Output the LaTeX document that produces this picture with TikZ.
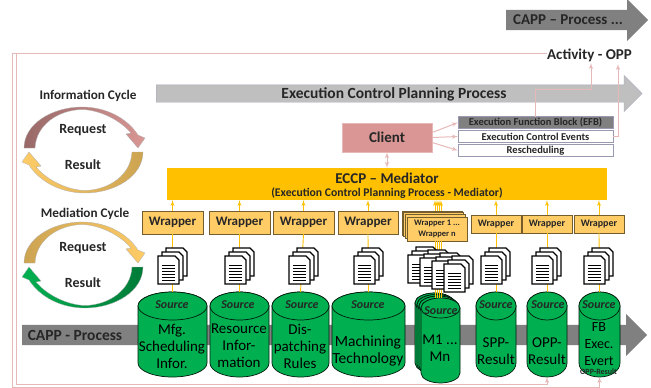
\documentclass[tikz,border=0pt]{standalone}
\usepackage{fontspec}
\setmainfont{Carlito}
\usetikzlibrary{arrows,shapes.arrows,positioning}
\definecolor{framepink}{HTML}{E6B9B8}
\definecolor{clientpink}{HTML}{D99694}
\definecolor{medorange}{HTML}{FFC000}
\definecolor{wraporange}{HTML}{FFCC66}
\definecolor{srcgreen}{HTML}{00B050}
\tikzset{txt/.style={font=\bfseries\fontsize{#1}{#1}\selectfont, text=black!85, inner sep=0pt}}
\tikzset{procarrow/.style={single arrow, anchor=tail, inner sep=0pt, text width=0pt, text height=#1, text depth=0pt, single arrow head extend=0.5*#1+1pt}}
\tikzset{pinkline/.style={draw=framepink, line width=1pt, -latex'}}
\tikzset{orangeline/.style={draw=medorange, line width=0.9pt, -latex'}}
\tikzset{wrapbox/.style={draw=black!55!wraporange, fill=wraporange, line width=0.8pt, inner sep=0pt, outer sep=0pt, minimum width=#1}}
\tikzset{infobox/.style={draw=blue!25!black!40, fill=white, line width=0.7pt, inner sep=0pt, outer sep=0pt, minimum width=155pt, minimum height=11.5pt, txt=10.5}}
\tikzset{srcbody/.style={draw=black!85!srcgreen, fill=srcgreen, line width=0.7pt}}
\tikzset{srcname/.style={font=\bfseries\itshape\fontsize{12}{12}\selectfont, text=black!85, inner sep=0pt}}
\tikzset{srctext/.style={font=\fontsize{#1}{17}\selectfont, text=black, align=center, inner sep=0pt}}
\tikzset{docs/.pic={
	\foreach \dx/\dy in {8/-8,4/-4,0/0}
		\draw [draw=black, fill=white, line width=1.2pt, shift={(\dx,\dy)}] (0,0) -- (17,0) -- (21,4) -- (21,28) -- (0,28) -- cycle;
	\foreach \ly in {9,12,15,18,21,24}
		\draw [black, line width=0.9pt] (4,\ly) -- (17,\ly);
}}
\newcommand{\cyclearc}{(24,148) .. controls (24,124) and (52,107) .. (82,107) .. controls (106,107) and (127,118) .. (138,135) -- (145,138) -- (138,148) -- (126,134) -- (131,133) .. controls (120,120) and (100,110) .. (82,109.5) .. controls (58,110) and (36,125) .. (35,148) -- cycle}
% name, centre x, centre y, width, height, end radius
\newcommand{\srcdb}[6]{
	\node [minimum width=#4pt, minimum height=#5pt, inner sep=0pt, outer sep=0pt] (#1) at (#2,#3) {};
	\path [srcbody] ([yshift=-#6pt]#1.north west) arc [start angle=180, end angle=0, x radius=0.5*#4pt, y radius=#6pt]
		-- ([yshift=#6pt]#1.south east) arc [start angle=0, end angle=-180, x radius=0.5*#4pt, y radius=#6pt] -- cycle;
	\path [srcbody] ([yshift=-#6pt]#1.north) ellipse [x radius=0.5*#4pt, y radius=#6pt];
}
\begin{document}
\begin{tikzpicture}[x=1pt,y=-1pt]
	\useasboundingbox (0,0) rectangle (651,388);

	% process arrows
	\node [procarrow=20pt, fill=black!50, minimum height=142pt]					(capptop) at (506,20) {};
	\node [txt=15]																(capptoptxt) at (568,20) {CAPP -- Process ...};
	\node [procarrow=17pt, fill=black!25, draw=blue!25!black!35, minimum height=486pt]	(ecpp) at (156,93.5) {};
	\node [txt=15.5]															(ecpptxt) at (394,94) {Execution Control Planning Process};
	\node [procarrow=20pt, fill=black!50, minimum height=625pt]					(capp) at (22,335) {};
	\node [txt=15.5]															(capptxt) at (75,335) {CAPP - Process};

	% cycles
	\node [txt=13.2]	(infocycle) at (88,96) {Information Cycle};
	\path [left color=black!30!clientpink, right color=clientpink, draw=black!30, line width=0.3pt] \cyclearc;
	\path [left color=wraporange, right color=black!20!wraporange, draw=black!30, line width=0.3pt, rotate around={180:(83.5,150)}] \cyclearc;
	\node [txt=14]		(req1) at (83,130) {Request};
	\node [txt=14]		(res1) at (83,165) {Result};
	\node [txt=13.2]	(medcycle) at (85,214) {Mediation Cycle};
	\begin{scope}[shift={(0,115)}]
		\path [left color=black!20!wraporange, right color=wraporange, draw=black!30, line width=0.3pt] \cyclearc;
		\path [left color=srcgreen, right color=black!30!srcgreen, draw=black!30, line width=0.3pt, rotate around={180:(83.5,150)}] \cyclearc;
	\end{scope}
	\node [txt=14]		(req2) at (83,248) {Request};
	\node [txt=14]		(res2) at (83,283) {Result};

	% mediator and client
	\node [fill=medorange, minimum width=440pt, minimum height=32pt, inner sep=0pt]	(med) at (387,184) {};
	\node [txt=15]		(medtxt) at (387,178) {ECCP -- Mediator};
	\node [txt=11.7]	(medsub) at (387,193) {(Execution Control Planning Process - Mediator)};
	\node [fill=clientpink, draw=framepink, minimum width=90pt, minimum height=29pt, inner sep=0pt, txt=15]	(client) at (387,137.5) {Client};
	\node [infobox, fill=black!50]			(efb) at (535.5,122.5) {Execution Function Block (EFB)};
	\node [infobox, below=2.5pt of efb]		(events) {Execution Control Events};
	\node [infobox, below=2.5pt of events]	(resched) {Rescheduling};
	\node [txt=15]							(activity) at (589.5,55) {Activity - OPP};
	\coordinate (actA) at (591,63);
	\coordinate (actB) at (618,64);

	\path [pinkline] ([yshift=5pt]client.east) -- (efb.west);
	\path [pinkline] (client.east) -- (events.west);
	\path [pinkline] ([yshift=-5pt]client.east) -- (resched.west);
	\path [pinkline, latex'-latex'] (client.south) -- (client.south |- med.north);
	\path [pinkline] (efb.north) |- (actA |- 0,89) -- (actA);
	\path [pinkline] (events.east) -| (actB);

	% cylinders
	\srcdb{c1}{172.5}{334.5}{69}{85}{14}
	\srcdb{c2}{239.5}{334.5}{59}{85}{14}
	\srcdb{c3}{300.5}{334.5}{57}{85}{14}
	\srcdb{c4}{368.5}{334.5}{73}{85}{14}
	\srcdb{c5a}{434.5}{333}{39}{80}{10}
	\srcdb{c5b}{436.5}{334.5}{39}{80}{10}
	\srcdb{c5c}{438.5}{336}{39}{80}{10}
	\srcdb{c5}{440.5}{340.5}{39}{85}{10}
	\srcdb{c6}{496}{334.5}{40}{85}{14}
	\srcdb{c7}{547}{334.5}{40}{85}{14}
	\srcdb{c8}{599.5}{334.5}{41}{85}{14}

	\node [srcname]	(s1) at (172,305) {Source};
	\node [srcname]	(s2) at (238,305) {Source};
	\node [srcname]	(s3) at (302,305) {Source};
	\node [srcname]	(s4) at (368,305) {Source};
	\node [srcname]	(s5) at (441,311) {Source};
	\node [srcname]	(s6) at (496,305) {Source};
	\node [srcname]	(s7) at (548,305) {Source};
	\node [srcname]	(s8) at (599,305) {Source};

	\node [srctext=15]		(t1) at (172,346) {Mfg.\\Scheduling\\Infor.};
	\node [srctext=15]		(t2) at (239,346) {Resource\\Infor-\\mation};
	\node [srctext=15]		(t3) at (300,346) {Dis-\\patching\\Rules};
	\node [srctext=15.5]	(t4) at (368,351) {Machining\\Technology};
	\node [srctext=15]		(t5) at (440,348) {M1 ...\\Mn};
	\node [srctext=15]		(t6) at (496,351) {SPP-\\Result};
	\node [srctext=15]		(t7) at (547,351) {OPP-\\Result};
	\node [srctext=14]		(t8) at (599,344) {FB\\Exec.\\Evert};
	\node [txt=8]			(opp) at (598.5,372) {OPP-Result};

	% wrappers
	\node [wrapbox=61pt, minimum height=23pt, txt=13]					(w1) at (172.5,222.5) {Wrapper};
	\node [wrapbox=61pt, minimum height=23pt, txt=13, right=6pt of w1]	(w2) {Wrapper};
	\node [wrapbox=61pt, minimum height=23pt, txt=13, right=3pt of w2]	(w3) {Wrapper};
	\node [wrapbox=60pt, minimum height=23pt, txt=13, right=4pt of w3]	(w4) {Wrapper};
	\foreach \wx/\wy/\wname in {432/223/wa,433.5/224.5/wb,435/226/wc}
		\node [wrapbox=60pt, minimum height=24pt]						(\wname) at (\wx,\wy) {};
	\node [wrapbox=60pt, minimum height=24pt, txt=8.5, align=center]	(w5) at (437,229) {Wrapper 1 ...\\[2pt]Wrapper n};
	\node [wrapbox=50pt, minimum height=18pt, txt=10]					(w6) at (496,224) {Wrapper};
	\node [wrapbox=50pt, minimum height=18pt, txt=10, right=1pt of w6]	(w7) {Wrapper};
	\node [wrapbox=50pt, minimum height=18pt, txt=10, right=2pt of w7]	(w8) {Wrapper};

	\foreach \n in {1,2,3,4,6,7,8}{
		\path [orangeline] (w\n.north) -- (w\n.north |- med.south);
		\draw [draw=medorange, line width=0.9pt] (c\n.north) -- (w\n.south);
	}
	\foreach \dx in {-2,0,2,4}{
		\path [orangeline] ([xshift=\dx pt]w5.north |- wa.north) -- ([xshift=\dx pt]w5.north |- med.south);
		\draw [draw=medorange, line width=0.9pt] ([xshift=\dx pt]w5.south) -- ([xshift=\dx pt]w5.south |- c5.north);
	}

	% documents
	\pic (d1) at (158,256) {docs};
	\pic (d2) at (225,256) {docs};
	\pic (d3) at (289,256) {docs};
	\pic (d4) at (354,256) {docs};
	\pic (d5a) at (408,255) {docs};
	\pic (d5b) at (420,258) {docs};
	\pic (d5c) at (432,261) {docs};
	\pic (d5d) at (444,264) {docs};
	\pic (d6) at (481,256) {docs};
	\pic (d7) at (532,256) {docs};
	\pic (d8) at (584,256) {docs};

	% frame lines
	\coordinate (f1) at (12,53);
	\coordinate (f2) at (12,387);
	\coordinate (f3) at (16,53);
	\coordinate (f4) at (16,384);
	\path [pinkline] (activity.west |- f1) -- (f1) -- (f2) -- (f2 -| c8.south) -- (c8.south);
	\path [pinkline] (f3) -- (f4) -- (f4 -| c7.south) -- (c7.south);
\end{tikzpicture}
\end{document}
